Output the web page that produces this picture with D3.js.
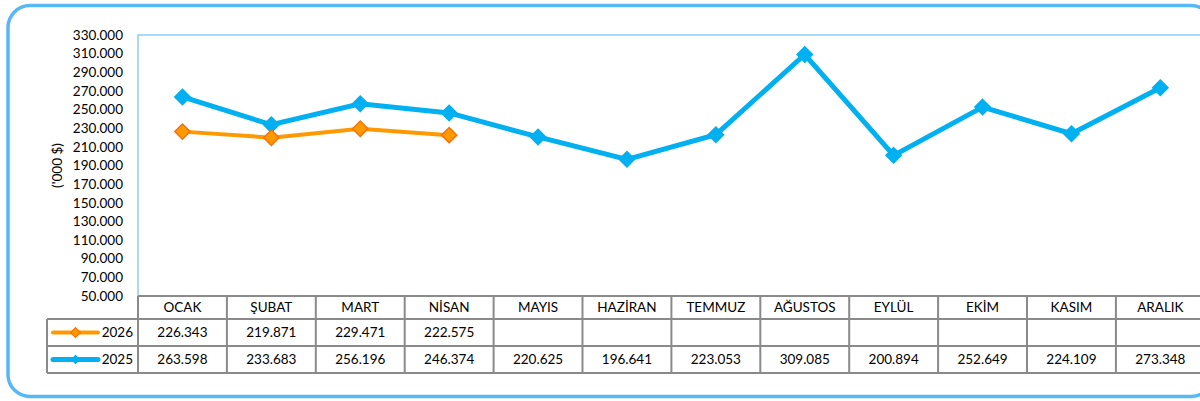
<!DOCTYPE html>
<html>
<head>
<meta charset="utf-8">
<script src="https://cdn.jsdelivr.net/npm/d3@7"></script>
<style>
  body { margin: 0; background: #fff; }
  svg { display: block; font-family: Lato, "Open Sans", sans-serif; }
</style>
</head>
<body>
<svg id="chart" width="1200" height="401"></svg>
<script>
const months = ["OCAK", "ŞUBAT", "MART", "NİSAN", "MAYIS", "HAZİRAN", "TEMMUZ", "AĞUSTOS", "EYLÜL", "EKİM", "KASIM", "ARALIK"]
const values2026 = [226343, 219871, 229471, 222575]
const values2025 = [263598, 233683, 256196, 246374, 220625, 196641, 223053, 309085, 200894, 252649, 224109, 273348]
const yTicks = d3.range(50000, 330001, 20000)

const series = [
  { name: "2026", values: values2026, colour: "#ff9900", stroke: "#f7720b", width: 4 },
  { name: "2025", values: values2025, colour: "#00b0f0", stroke: "#00b0f0", width: 5 }
]

const tr = d3.formatLocale({ decimal: ",", thousands: ".", grouping: [3], currency: ["", ""] })
const fmt = tr.format(",d")
const fontSize = 13.5

const svg = d3.select("#chart")

// Outer rounded frame
svg.append("rect")
  .attr("x", 8).attr("y", 5.5)
  .attr("width", 1205).attr("height", 391)
  .attr("rx", 22)
  .attr("fill", "none")
  .attr("stroke", "#56b9f5")
  .attr("stroke-width", 3.5)

const plotLeft = 138, plotTop = 35, plotBottom = 296
const x = d3.scaleBand().domain(months).range([plotLeft, plotLeft + 12 * 88.9])
const y = d3.scaleLinear().domain([50000, 330000]).range([plotBottom, plotTop])

// Plot area border (top + left)
svg.append("path")
  .attr("d", `M${plotLeft},${plotBottom} V${plotTop} H1200`)
  .attr("fill", "none")
  .attr("stroke", "#8ccff5")
  .attr("stroke-width", 1.5)

// Y axis labels
svg.append("g")
  .selectAll("text")
  .data(yTicks)
  .join("text")
  .attr("x", 123)
  .attr("y", d => y(d))
  .attr("dy", "0.35em")
  .attr("text-anchor", "end")
  .attr("font-size", fontSize)
  .attr("fill", "#000")
  .text(fmt)

svg.append("text")
  .attr("transform", `translate(62,${(plotTop + plotBottom) / 2}) rotate(-90)`)
  .attr("text-anchor", "middle")
  .attr("font-size", fontSize)
  .text("('000 $)")

// Lines and markers
const cx = (d, i) => x(months[i]) + x.bandwidth() / 2
const line = d3.line().x(cx).y(d => y(d))
const diamond = d3.symbol().type(d3.symbolDiamond2).size(150)

series.slice().reverse().forEach(s => {
  let g = svg.append("g")
  g.append("path")
    .datum(s.values)
    .attr("d", line)
    .attr("fill", "none")
    .attr("stroke", s.colour)
    .attr("stroke-width", s.width)
  g.selectAll("path.marker")
    .data(s.values)
    .join("path")
    .attr("class", "marker")
    .attr("transform", (d, i) => `translate(${cx(d, i)},${y(d)})`)
    .attr("d", diamond)
    .attr("fill", s.colour)
    .attr("stroke", s.stroke)
    .attr("stroke-width", 1.5)
})

// Data table
const rowTop = [296, 319, 346, 373]
const tableLeft = 47
const grid = svg.append("g")
  .attr("stroke", "#8a8a8a")
  .attr("stroke-width", 2)
  .attr("fill", "none")

grid.append("line").attr("x1", plotLeft).attr("x2", 1200).attr("y1", rowTop[0]).attr("y2", rowTop[0])
rowTop.slice(1).forEach(r => {
  grid.append("line").attr("x1", tableLeft).attr("x2", 1200).attr("y1", r).attr("y2", r)
})
grid.append("line").attr("x1", tableLeft).attr("x2", tableLeft).attr("y1", rowTop[1]).attr("y2", rowTop[3])
months.forEach(m => {
  grid.append("line").attr("x1", x(m)).attr("x2", x(m)).attr("y1", rowTop[0]).attr("y2", rowTop[3])
})

svg.append("g")
  .selectAll("text")
  .data(months)
  .join("text")
  .attr("x", m => x(m) + x.bandwidth() / 2)
  .attr("y", (rowTop[0] + rowTop[1]) / 2)
  .attr("dy", "0.35em")
  .attr("text-anchor", "middle")
  .attr("font-size", fontSize)
  .text(m => m)

series.forEach((s, k) => {
  let mid = (rowTop[k + 1] + rowTop[k + 2]) / 2
  let g = svg.append("g")
  g.selectAll("text")
    .data(s.values)
    .join("text")
    .attr("x", cx)
    .attr("y", mid)
    .attr("dy", "0.35em")
    .attr("text-anchor", "middle")
    .attr("font-size", fontSize)
    .text(fmt)

  // legend key
  g.append("line")
    .attr("x1", 53).attr("x2", 98)
    .attr("y1", mid).attr("y2", mid)
    .attr("stroke", s.colour)
    .attr("stroke-width", s.width)
    .attr("stroke-linecap", "round")
  g.append("path")
    .attr("transform", `translate(75.5,${mid})`)
    .attr("d", d3.symbol().type(d3.symbolDiamond2).size(k === 0 ? 60 : 40))
    .attr("fill", s.colour)
    .attr("stroke", s.stroke)
    .attr("stroke-width", 1.2)
  g.append("text")
    .attr("x", 133)
    .attr("y", mid)
    .attr("dy", "0.35em")
    .attr("text-anchor", "end")
    .attr("font-size", fontSize)
    .text(s.name)
})
</script>
</body>
</html>
